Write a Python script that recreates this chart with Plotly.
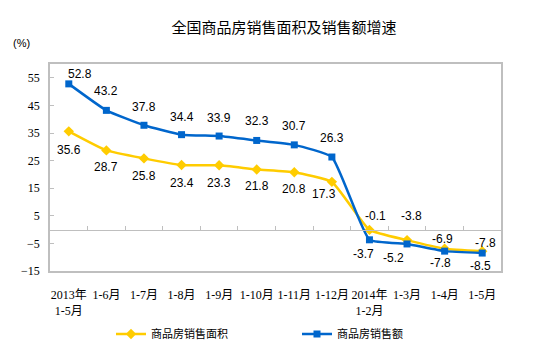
import plotly.graph_objects as go

categories = ["2013年<br>1-5月", "1-6月", "1-7月", "1-8月", "1-9月", "1-10月",
              "1-11月", "1-12月", "2014年<br>1-2月", "1-3月", "1-4月", "1-5月"]
area_growth = [35.6, 28.7, 25.8, 23.4, 23.3, 21.8, 20.8, 17.3, -0.1, -3.8, -6.9, -7.8]
sales_growth = [52.8, 43.2, 37.8, 34.4, 33.9, 32.3, 30.7, 26.3, -3.7, -5.2, -7.8, -8.5]
y_ticks = [-15, -5, 5, 15, 25, 35, 45, 55]

# label offsets (px, label centre relative to point; +dy = down)
area_off = [(0, 19), (0, 17), (0, 18), (0, 18), (0, 18), (0, 17), (0, 17), (-8, 12),
            (6, -14), (4, -24), (-2, -10), (3, -8)]
sales_off = [(11, -10), (0, -19), (0, -18), (0, -18), (0, -18), (0, -19), (0, -19), (0, -19),
             (-6, 14), (-14, 14), (-4, 12), (-2, 13)]

YELLOW = "#FFCC00"
BLUE = "#0066CC"
GRID = "#BFBFBF"
CJK = "Noto Sans CJK SC"
NUM = "Liberation Sans"

W, H = 554, 353
ML, MR, MT, MB = 50, 53, 64, 82
PW, PH = W - ML - MR, H - MT - MB


def px_x(px):
    return (px - ML) / PW


def px_y(py):
    return (H - MB - py) / PH


fig = go.Figure()
fig.add_trace(go.Scatter(
    x=categories, y=area_growth, name="商品房销售面积", mode="lines+markers",
    line=dict(color=YELLOW, width=2.5, shape="spline", smoothing=0.4),
    marker=dict(symbol="diamond", size=8, color=YELLOW)))
fig.add_trace(go.Scatter(
    x=categories, y=sales_growth, name="商品房销售额", mode="lines+markers",
    line=dict(color=BLUE, width=2.5, shape="spline", smoothing=0.4),
    marker=dict(symbol="square", size=7, color=BLUE)))
# helper trace for the zero-line category axis
fig.add_trace(go.Scatter(x=categories, y=[0] * len(categories), xaxis="x2",
                         mode="markers", marker=dict(opacity=0), showlegend=False,
                         hoverinfo="skip"))

annotations = []
for vals, offs in ((area_growth, area_off), (sales_growth, sales_off)):
    for c, v, (dx, dy) in zip(categories, vals, offs):
        annotations.append(dict(x=c, y=v, xref="x", yref="y", text=f"{v:.1f}",
                                showarrow=False, xanchor="center", yanchor="middle",
                                xshift=dx, yshift=-dy,
                                font=dict(family=NUM, size=12, color="#000000")))
annotations.append(dict(x=px_x(11), y=px_y(43), xref="paper", yref="paper", text="(%)",
                        showarrow=False, xanchor="left", yanchor="middle",
                        font=dict(family=NUM, size=11, color="#000000")))

fig.update_layout(
    width=W, height=H,
    margin=dict(l=ML, r=MR, t=MT, b=MB, autoexpand=False),
    paper_bgcolor="white", plot_bgcolor="white",
    title=dict(text="全国商品房销售面积及销售额增速", x=284 / W, xanchor="center",
               y=1 - 28 / H, yanchor="middle",
               font=dict(family=CJK, size=15, color="#000000")),
    showlegend=True,
    legend=dict(orientation="h", x=px_x(111), xanchor="left", y=px_y(334),
                yanchor="middle", entrywidth=141, entrywidthmode="pixels",
                font=dict(family=CJK, size=11, color="#000000"),
                bgcolor="rgba(0,0,0,0)"),
    xaxis=dict(type="category", showline=True, linecolor=GRID, linewidth=1.5, mirror=True,
               ticks="", showgrid=False, zeroline=False,
               tickfont=dict(family="Liberation Serif, " + CJK, size=12, color="#000000"),
               ticklabelstandoff=12, range=[-0.5, 11.5]),
    xaxis2=dict(type="category", overlaying="x", anchor="free", position=0.2,
                matches="x", showline=True, linecolor=GRID, linewidth=1.2,
                ticks="inside", ticklen=4, tickcolor=GRID, tickson="boundaries",
                showticklabels=False, showgrid=False, zeroline=False),
    yaxis=dict(range=[-15, 60], tickvals=y_ticks, ticks="inside", ticklen=4,
               tickcolor=GRID, showline=True, linecolor=GRID, linewidth=1.5, mirror=True,
               showgrid=False, zeroline=False,
               tickfont=dict(family="Liberation Serif", size=12, color="#000000"),
               ticklabelstandoff=6),
    annotations=annotations,
)

fig.write_html("out.html")
